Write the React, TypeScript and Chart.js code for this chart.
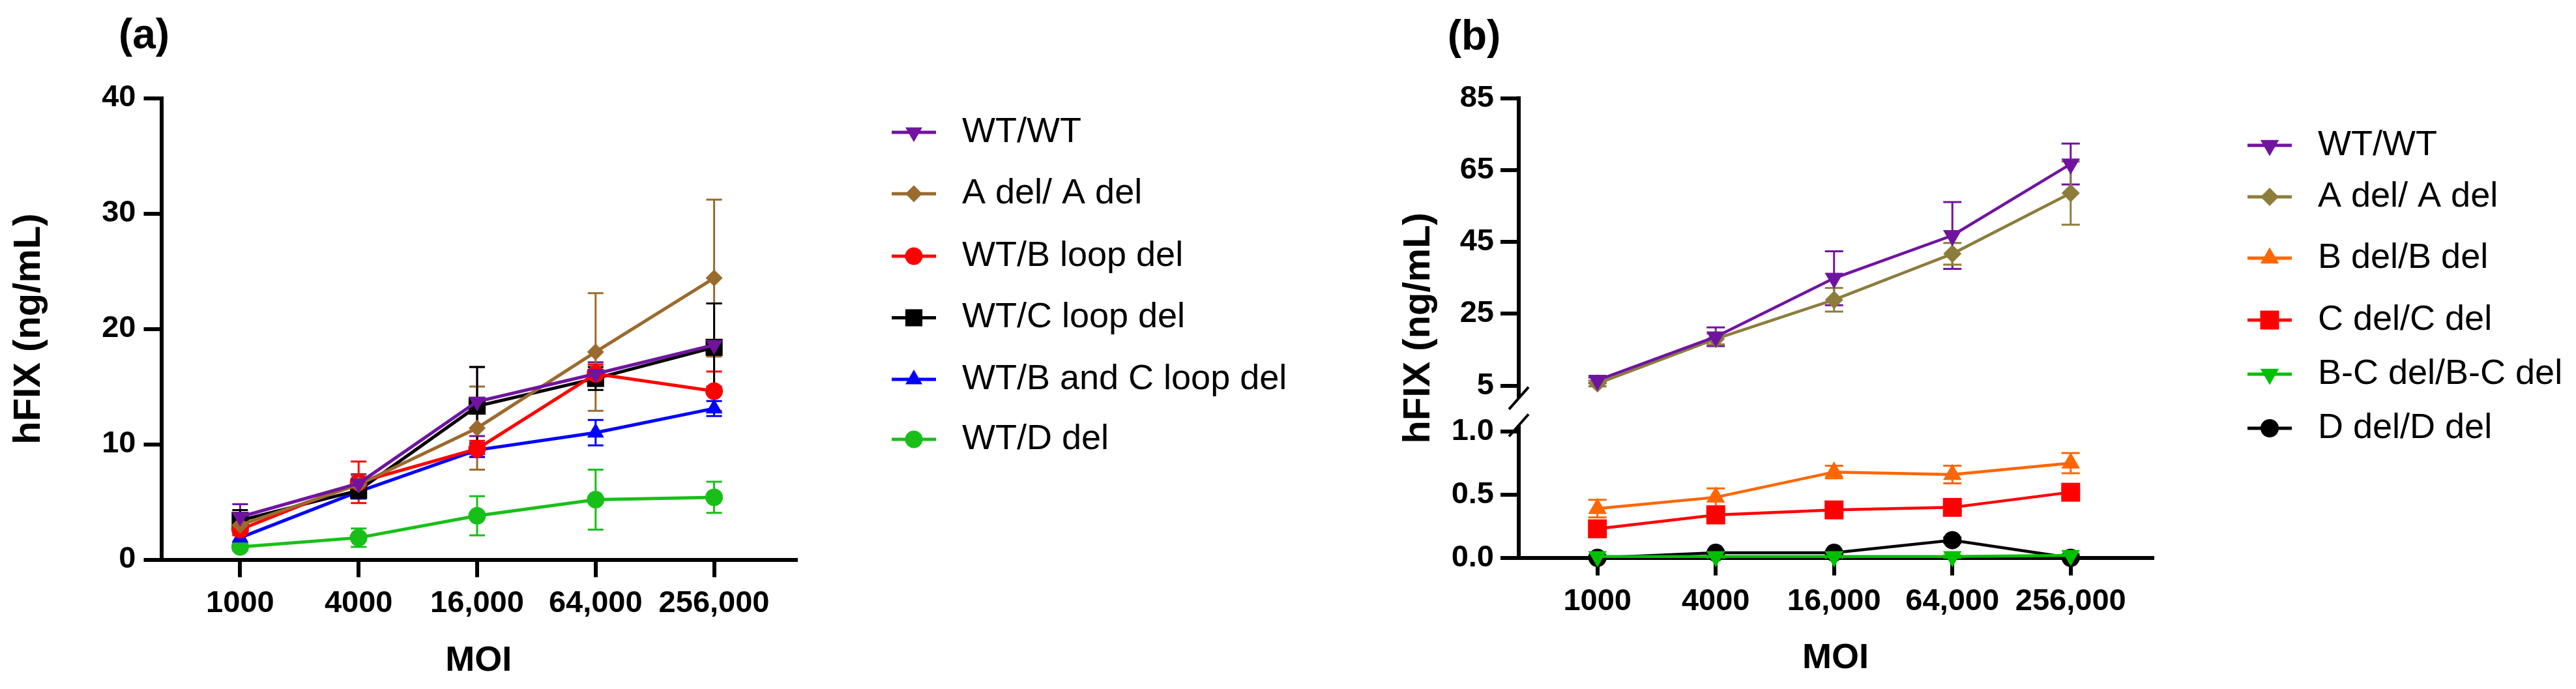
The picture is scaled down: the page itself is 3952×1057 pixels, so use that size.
import React, { useEffect, useRef } from 'react';
import { Chart, registerables, LinearScale } from 'chart.js';
import { drawPoint } from 'chart.js/helpers';

Chart.register(...registerables);

// ---------- shared data ----------
const MOI_LABELS = ['1000', '4000', '16,000', '64,000', '256,000'];

// ---------- panel (a) data ----------
const A_NAMES = ['WT/WT', 'A del/ A del', 'WT/B loop del', 'WT/C loop del', 'WT/B and C loop del', 'WT/D del'];
const A_WT_WT = [3.7, 6.6, 13.7, 16.1, 18.6];
const A_WT_WT_ERR = [1.1, 0.8, 3.0, 1.0, 3.6];
const A_ADEL = [3.0, 6.5, 11.4, 18.0, 24.4];
const A_ADEL_ERR = [0.8, 0.8, 3.6, 5.1, 6.8];
const A_BLOOP = [2.6, 6.7, 9.6, 16.1, 14.6];
const A_BLOOP_ERR = [0.5, 1.8, 0.7, 0.8, 1.7];
const A_CLOOP = [3.4, 6.0, 13.3, 15.7, 18.4];
const A_CLOOP_ERR = [0.9, 0.7, 3.4, 1.0, 3.8];
const A_BCLOOP = [1.9, 5.9, 9.5, 11.0, 13.1];
const A_BCLOOP_ERR = [0.5, 0.6, 0.6, 1.1, 0.65];
const A_DDEL = [1.1, 1.9, 3.8, 5.2, 5.4];
const A_DDEL_ERR = [0.3, 0.8, 1.7, 2.6, 1.35];
const A_Y_TICKS = [0, 10, 20, 30, 40];

// ---------- panel (b) data ----------
const B_NAMES = ['WT/WT', 'A del/ A del', 'B del/B del', 'C del/C del', 'B-C del/B-C del', 'D del/D del'];
const B_WT_WT = [6.5, 18.6, 34.9, 46.8, 66.7];
const B_WT_WT_ERR = [0.8, 2.6, 7.5, 9.3, 5.7];
const B_ADEL = [5.6, 18.0, 28.9, 41.7, 58.6];
const B_ADEL_ERR = [0.8, 1.5, 3.3, 3.0, 8.8];
const B_BDEL = [0.39, 0.48, 0.68, 0.66, 0.75];
const B_BDEL_ERR = [0.07, 0.07, 0.05, 0.07, 0.08];
const B_CDEL = [0.23, 0.34, 0.38, 0.4, 0.52];
const B_CDEL_ERR = [0.03, 0.03, 0.03, 0.03, 0.03];
const B_BCDEL = [0.01, 0.01, 0.01, 0.01, 0.02];
const B_BCDEL_ERR = [0.01, 0.01, 0.01, 0.01, 0.01];
const B_DDEL = [0.0, 0.04, 0.04, 0.14, 0.0];
const B_DDEL_ERR = [0.01, 0.01, 0.01, 0.02, 0.01];
const B_Y_TICKS = [0, 0.5, 1, 5, 25, 45, 65, 85];

// ---------- broken axis geometry for (b) ----------
const B_LOW_MAX = 1.05;
const B_HIGH_MIN = 1.5;
const B_MAX = 85;
const B_LOW_FRAC = 0.2883;
const B_HIGH_FRAC = 0.6527;

const X_MIN = -0.665;
const X_MAX = 4.69;
const FONT = '"Liberation Sans", Arial, Helvetica, sans-serif';
const SPLIT = 2000;
const W = 3952;
const H = 1057;

Chart.defaults.font.family = FONT;
Chart.defaults.color = '#000';

class BrokenLinearScale extends LinearScale {
  getPixelForValue(value: any) {
    if (value === null || value === undefined || isNaN(value)) return NaN;
    let d: number;
    const gapFrac = 1 - B_LOW_FRAC - B_HIGH_FRAC;
    if (value <= B_LOW_MAX) d = (value / B_LOW_MAX) * B_LOW_FRAC;
    else if (value >= B_HIGH_MIN) d = 1 - B_HIGH_FRAC + ((value - B_HIGH_MIN) / (B_MAX - B_HIGH_MIN)) * B_HIGH_FRAC;
    else d = B_LOW_FRAC + ((value - B_LOW_MAX) / (B_HIGH_MIN - B_LOW_MAX)) * gapFrac;
    return (this as any).getPixelForDecimal(d);
  }
  getValueForPixel(pixel: number) {
    const d = (this as any).getDecimalForPixel(pixel);
    const gapFrac = 1 - B_LOW_FRAC - B_HIGH_FRAC;
    if (d <= B_LOW_FRAC) return (d / B_LOW_FRAC) * B_LOW_MAX;
    if (d >= 1 - B_HIGH_FRAC) return B_HIGH_MIN + ((d - (1 - B_HIGH_FRAC)) / B_HIGH_FRAC) * (B_MAX - B_HIGH_MIN);
    return B_LOW_MAX + ((d - B_LOW_FRAC) / gapFrac) * (B_HIGH_MIN - B_LOW_MAX);
  }
}
(BrokenLinearScale as any).id = 'brokenLinear';
Chart.register(BrokenLinearScale as any);

// ---------- plugins ----------
const errorBarPlugin = {
  id: 'errorBars',
  beforeDatasetsDraw(chart: any) {
    const ctx = chart.ctx;
    chart.data.datasets.forEach((ds: any, i: number) => {
      const meta = chart.getDatasetMeta(i);
      const ys = chart.scales[meta.yAxisID];
      const errs = ds.errors;
      if (!errs) return;
      ctx.save();
      ctx.strokeStyle = ds.borderColor;
      ctx.lineWidth = ds.errorWidth;
      ctx.lineCap = 'butt';
      meta.data.forEach((pt: any, j: number) => {
        const v = ds.data[j].y;
        const e = errs[j];
        if (!e) return;
        const top = ys.getPixelForValue(v + e);
        const bot = ys.getPixelForValue(Math.max(0, v - e));
        const c = ds.errorCap;
        ctx.beginPath();
        ctx.moveTo(pt.x, top);
        ctx.lineTo(pt.x, bot);
        ctx.moveTo(pt.x - c, top);
        ctx.lineTo(pt.x + c, top);
        ctx.moveTo(pt.x - c, bot);
        ctx.lineTo(pt.x + c, bot);
        ctx.stroke();
      });
      ctx.restore();
    });
  },
};

function makeLegendPlugin(lg: any) {
  return {
    id: 'customLegend',
    afterDraw(chart: any) {
      const { ctx, chartArea } = chart;
      const cx = chartArea.right + lg.dx;
      chart.data.datasets.forEach((ds: any, i: number) => {
        const y = chartArea.top + lg.rows[i];
        ctx.save();
        ctx.strokeStyle = ds.borderColor;
        ctx.lineWidth = lg.lineWidth;
        ctx.beginPath();
        ctx.moveTo(cx - lg.half, y);
        ctx.lineTo(cx + lg.half, y);
        ctx.stroke();
        ctx.fillStyle = ds.borderColor;
        drawPoint(ctx, { pointStyle: ds.pointStyle, rotation: ds.pointRotation || 0, radius: ds.pointRadius, borderWidth: 0 } as any, cx, y);
        ctx.fillStyle = '#000';
        ctx.font = `${lg.fontSize}px ${FONT}`;
        ctx.textBaseline = 'middle';
        ctx.textAlign = 'left';
        ctx.fillText(ds.label, cx + lg.textDx, y);
        ctx.restore();
      });
    },
  };
}

function makeTagPlugin(text: string, x: number, y: number) {
  return {
    id: 'panelTag',
    afterDraw(chart: any) {
      const ctx = chart.ctx;
      ctx.save();
      ctx.fillStyle = '#000';
      ctx.font = `bold 64px ${FONT}`;
      ctx.textAlign = 'center';
      ctx.textBaseline = 'middle';
      ctx.fillText(text, x, y);
      ctx.restore();
    },
  };
}

const axisBreakPlugin = {
  id: 'axisBreak',
  beforeDatasetsDraw(chart: any) {
    const ctx = chart.ctx;
    const ys = chart.scales.y;
    const x = ys.right;
    const pLow = ys.getPixelForValue(B_LOW_MAX);
    const pHigh = ys.getPixelForValue(B_HIGH_MIN);
    ctx.save();
    ctx.strokeStyle = '#000';
    ctx.lineWidth = 6;
    ctx.lineCap = 'butt';
    ctx.beginPath();
    ctx.moveTo(x, ys.getPixelForValue(0) + 3);
    ctx.lineTo(x, pLow);
    ctx.moveTo(x, pHigh);
    ctx.lineTo(x, ys.getPixelForValue(B_MAX) - 3);
    ctx.stroke();
    ctx.lineWidth = 4;
    ctx.beginPath();
    ctx.moveTo(x - 15, pLow + 17);
    ctx.lineTo(x + 15, pLow - 17);
    ctx.moveTo(x - 15, pHigh + 17);
    ctx.lineTo(x + 15, pHigh - 17);
    ctx.stroke();
    ctx.restore();
  },
};

// ---------- config builders ----------
function series(label: string, values: number[], errors: number[], color: string, style: string, rot: number, radius: number, lw: number, cap: number) {
  return {
    label,
    data: values.map((v, i) => ({ x: i, y: v })),
    errors,
    errorWidth: 3,
    errorCap: cap,
    borderColor: color,
    backgroundColor: color,
    pointBackgroundColor: color,
    pointBorderColor: color,
    pointBorderWidth: 0,
    pointStyle: style,
    pointRotation: rot,
    pointRadius: radius,
    borderWidth: lw,
    tension: 0,
    fill: false,
    clip: false,
  };
}

function xScale(height: number, titlePadBottom: number) {
  return {
    type: 'linear',
    min: X_MIN,
    max: X_MAX,
    afterBuildTicks: (axis: any) => {
      axis.ticks = MOI_LABELS.map((_, i) => ({ value: i }));
    },
    afterFit: (s: any) => {
      s.height = height;
    },
    ticks: {
      callback: (v: any) => MOI_LABELS[v],
      font: { size: 47, weight: 'bold' },
      color: '#000',
      padding: 12,
      autoSkip: false,
      maxRotation: 0,
      minRotation: 0,
    },
    grid: { display: true, drawOnChartArea: false, drawTicks: true, tickLength: 27, tickWidth: 6, lineWidth: 6, tickColor: '#000', color: '#000' },
    border: { display: true, width: 6, color: '#000' },
    title: { display: true, text: 'MOI', font: { size: 54, weight: 'bold' }, color: '#000', padding: { top: 0, bottom: titlePadBottom } },
  };
}

function configA() {
  const LW = 5;
  const CAP = 12;
  const datasets = [
    series(A_NAMES[0], A_WT_WT, A_WT_WT_ERR, '#7014A0', 'triangle', 180, 15, LW, CAP),
    series(A_NAMES[1], A_ADEL, A_ADEL_ERR, '#9B6A2D', 'rectRot', 0, 13, LW, CAP),
    series(A_NAMES[2], A_BLOOP, A_BLOOP_ERR, '#FF0000', 'circle', 0, 13.5, LW, CAP),
    series(A_NAMES[3], A_CLOOP, A_CLOOP_ERR, '#000000', 'rect', 0, 18.5, LW, CAP),
    series(A_NAMES[4], A_BCLOOP, A_BCLOOP_ERR, '#0000FF', 'triangle', 0, 15, LW, CAP),
    series(A_NAMES[5], A_DDEL, A_DDEL_ERR, '#19BF19', 'circle', 0, 13.5, LW, CAP),
  ];
  return {
    type: 'line',
    data: { datasets },
    options: {
      responsive: false,
      animation: false,
      devicePixelRatio: 1,
      events: [],
      layout: { padding: { left: 0, right: SPLIT - 1221, top: 150.5, bottom: 0 } },
      plugins: { legend: { display: false }, tooltip: { enabled: false }, title: { display: false } },
      scales: {
        x: xScale(198.5, 10.6),
        y: {
          type: 'linear',
          min: 0,
          max: 40,
          afterBuildTicks: (axis: any) => {
            axis.ticks = A_Y_TICKS.map((v) => ({ value: v }));
          },
          afterFit: (s: any) => {
            s.width = 247.5;
          },
          ticks: { font: { size: 47, weight: 'bold' }, color: '#000', padding: 12 },
          grid: { display: true, drawOnChartArea: false, drawTicks: true, tickLength: 27, tickWidth: 6, lineWidth: 6, tickColor: '#000', color: '#000' },
          border: { display: true, width: 6, color: '#000' },
          title: { display: true, text: 'hFIX (ng/mL)', font: { size: 58, weight: 'bold' }, color: '#000', padding: { top: 9.8, bottom: 0 } },
        },
      },
    },
    plugins: [
      errorBarPlugin,
      makeLegendPlugin({ dx: 181, rows: [52.5, 146.7, 242.5, 337, 431.5, 523.5], half: 34, lineWidth: 5, textDx: 74, fontSize: 54 }),
      makeTagPlugin('(a)', 221, 56),
    ],
  };
}

function configB() {
  const LW = 4.5;
  const CAP = 14;
  const datasets = [
    series(B_NAMES[0], B_WT_WT, B_WT_WT_ERR, '#7014A0', 'triangle', 180, 16.5, LW, CAP),
    series(B_NAMES[1], B_ADEL, B_ADEL_ERR, '#8C7D3C', 'rectRot', 0, 14, LW, CAP),
    series(B_NAMES[2], B_BDEL, B_BDEL_ERR, '#FF6600', 'triangle', 0, 16.5, LW, CAP),
    series(B_NAMES[3], B_CDEL, B_CDEL_ERR, '#FF0000', 'rect', 0, 20.5, LW, CAP),
    series(B_NAMES[4], B_BCDEL, B_BCDEL_ERR, '#00C000', 'triangle', 180, 16.5, LW, CAP),
    series(B_NAMES[5], B_DDEL, B_DDEL_ERR, '#000000', 'circle', 0, 14, LW, CAP),
  ];
  return {
    type: 'line',
    data: { datasets },
    options: {
      responsive: false,
      animation: false,
      devicePixelRatio: 1,
      events: [],
      layout: { padding: { left: 126, right: W - 3302, top: 150.7, bottom: 0 } },
      plugins: { legend: { display: false }, tooltip: { enabled: false }, title: { display: false } },
      scales: {
        x: xScale(201.2, 14.6),
        y: {
          type: 'brokenLinear',
          min: 0,
          max: B_MAX,
          afterBuildTicks: (axis: any) => {
            axis.ticks = B_Y_TICKS.map((v) => ({ value: v }));
          },
          afterFit: (s: any) => {
            s.width = 204;
          },
          ticks: {
            font: { size: 47, weight: 'bold' },
            color: '#000',
            padding: 10,
            callback: (v: any) => (v < 2 ? Number(v).toFixed(1) : String(v)),
          },
          grid: { display: true, drawOnChartArea: false, drawTicks: true, tickLength: 28, tickWidth: 6, lineWidth: 6, tickColor: '#000', color: '#000' },
          border: { display: false },
          title: { display: true, text: 'hFIX (ng/mL)', font: { size: 58, weight: 'bold' }, color: '#000', padding: { top: 16.2, bottom: 0 } },
        },
      },
    },
    plugins: [
      axisBreakPlugin,
      errorBarPlugin,
      makeLegendPlugin({ dx: 180, rows: [72.3, 151.3, 245.3, 340.3, 423.3, 506.3], half: 34, lineWidth: 5, textDx: 74, fontSize: 54 }),
      makeTagPlugin('(b)', 2261.5 - SPLIT, 58),
    ],
  };
}

function Panel({ build, left, width }: { build: () => any; left: number; width: number }) {
  const ref = useRef<HTMLCanvasElement | null>(null);
  useEffect(() => {
    if (!ref.current) return;
    const chart = new Chart(ref.current, build());
    return () => chart.destroy();
  }, [build]);
  return (
    <canvas
      ref={ref}
      width={width}
      height={H}
      style={{ position: 'absolute', left, top: 0, width, height: H, display: 'block' }}
    />
  );
}

export default function App() {
  return (
    <div style={{ position: 'absolute', left: 0, top: 0, width: W, height: H, background: '#fff', overflow: 'hidden' }}>
      <Panel build={configA} left={0} width={SPLIT} />
      <Panel build={configB} left={SPLIT} width={W - SPLIT} />
    </div>
  );
}
